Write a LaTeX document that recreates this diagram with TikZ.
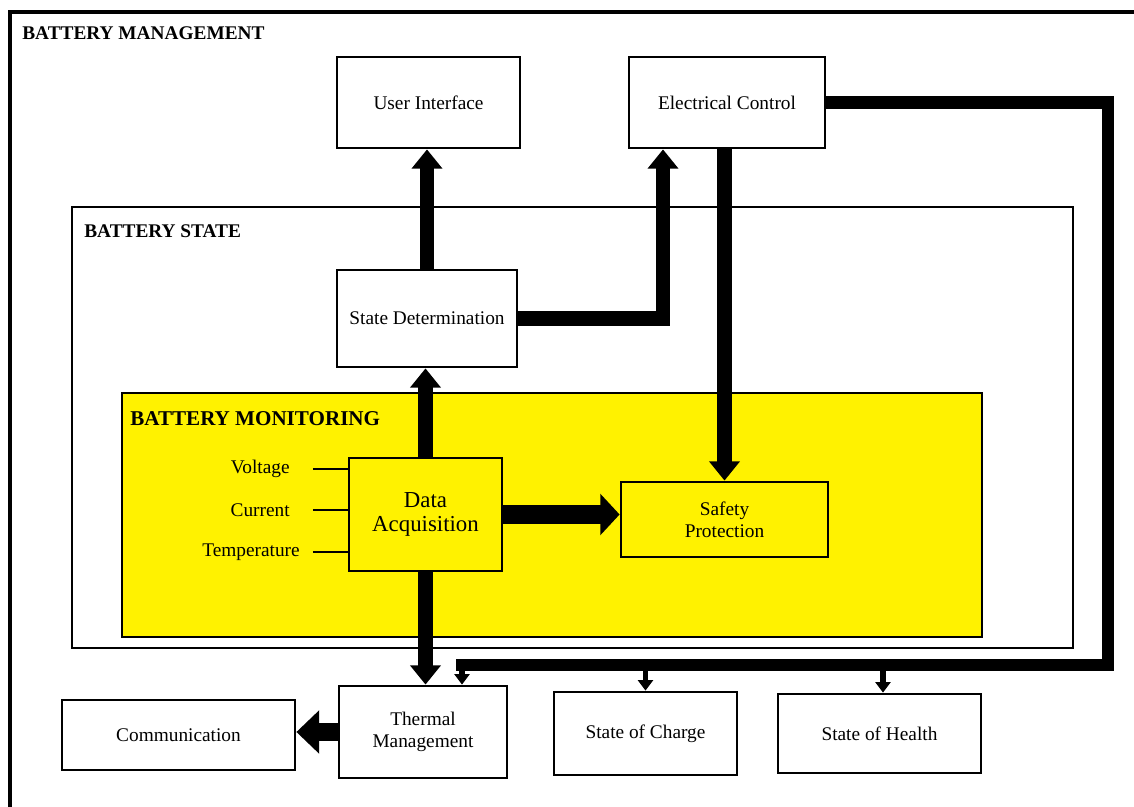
\documentclass[tikz,border=0pt]{standalone}
\usepackage{fontspec}
\setmainfont{Liberation Serif}
\usetikzlibrary{arrows.meta}
\definecolor{monyellow}{RGB}{255,242,0}

\tikzset{
  box/.style={draw, line width=1.6pt, fill=white, align=center, inner sep=2pt,
    font=\fontsize{11}{12.5}\selectfont},
  title/.style={anchor=west, inner sep=0pt, font=\bfseries\fontsize{11}{13}\selectfont},
  inlabel/.style={anchor=east, inner sep=0pt, font=\fontsize{11}{13}\selectfont},
  flow/.style={line width=8.5pt, -{Triangle[width=17pt,length=11pt]}},
  wideflow/.style={line width=11pt, -{Triangle[width=23pt,length=11pt]}},
  busline/.style={line width=7pt},
  tap/.style={line width=3pt, -{Triangle[width=8.5pt,length=6pt]}},
  inline/.style={line width=1.6pt}
}

\begin{document}
\begin{tikzpicture}[x=0.02cm, y=-0.02cm]
\useasboundingbox (0,0) rectangle (1134,807);
\clip (0,0) rectangle (1134,807);

% frames
\draw[line width=2.3pt] (10,830) |- (1150,12);
\node[title] (tmgmt) at (22,33) {BATTERY MANAGEMENT};
\draw[line width=1.2pt] (72,207) rectangle (1073,648);
\node[title] (tstate) at (84,231) {BATTERY STATE};
\draw[line width=1.6pt, fill=monyellow] (122,393) rectangle (982,637);
\node[title, font=\bfseries\fontsize{12}{14}\selectfont] (tmon) at (130,419) {BATTERY MONITORING};

% blocks
\node[box, minimum width=3.66cm, minimum height=1.82cm] (ui) at (428.5,102.5) {User Interface};
\node[box, minimum width=3.92cm, minimum height=1.82cm] (ec) at (727,102.5) {Electrical Control};
\node[box, minimum width=3.6cm, minimum height=1.94cm] (sd) at (427,318.5) {State Determination};
\node[box, fill=monyellow, minimum width=3.06cm, minimum height=2.26cm,
  font=\fontsize{13}{14}\selectfont] (da) at (425.5,514.5) {Data\\Acquisition};
\node[box, fill=monyellow, minimum width=4.14cm, minimum height=1.5cm] (sp) at (724.5,519.5) {Safety\\Protection};
\node[box, minimum width=3.36cm, minimum height=1.84cm] (tm) at (423,732) {Thermal\\Management};
\node[box, minimum width=4.66cm, minimum height=1.4cm] (comm) at (178.5,735) {Communication};
\node[box, minimum width=3.66cm, minimum height=1.66cm] (soc) at (645.5,733.5) {State of Charge};
\node[box, minimum width=4.06cm, minimum height=1.58cm] (soh) at (879.5,733.5) {State of Health};

% sensor inputs
\node[inlabel] (vlt) at (290,469) {Voltage};
\node[inlabel] (cur) at (290,510) {Current};
\node[inlabel] (tmp) at (300,552) {Temperature};
\draw[inline, shorten <=0.46cm] (vlt.east) -- (vlt.east -| da.west);
\draw[inline, shorten <=0.46cm] (cur.east) -- (cur.east -| da.west);
\draw[inline, shorten <=0.26cm] (tmp.east) -- (tmp.east -| da.west);

% main flows
\draw[flow] (sd.north) -- (sd.north |- ui.south);
\draw[flow] (sd.east) -| ([xshift=-1.28cm]ec.south);
\draw[flow] (sp.north |- ec.south) -- (sp.north);
\draw[flow] (da.north) -- (da.north |- sd.south);
\draw[wideflow] (da.east) -- (da.east -| sp.west);
\draw[flow] (da.south) -- (da.south |- tm.north);
\draw[flow, line width=10pt, -{Triangle[width=24pt,length=13pt]}] (tm.west) -- (tm.west -| comm.east);

% output bus
\coordinate (busR) at (1108,665);
\coordinate (busL) at (462,665);
\draw[busline] (ec.east) -| (busR) -- ([xshift=-0.12cm]busL);
\draw[tap] (busL) -- (busL |- tm.north);
\draw[tap] (soc.north |- busR) -- (soc.north);
\draw[tap] ([xshift=0.07cm]soh.north |- busR) -- ([xshift=0.07cm]soh.north);
\end{tikzpicture}
\end{document}
